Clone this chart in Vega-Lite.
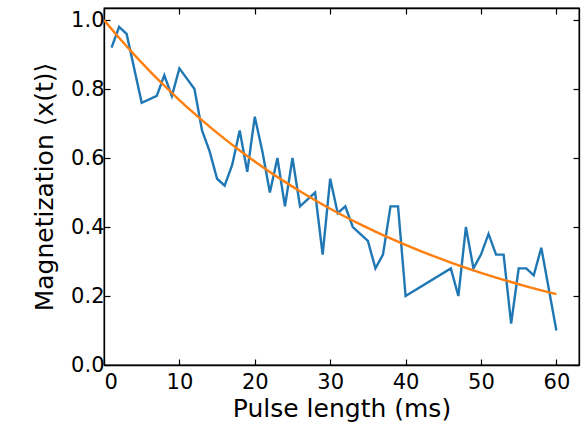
{
  "$schema": "https://vega.github.io/schema/vega-lite/v6.json",
  "autosize": {"type": "none"},
  "padding": {"left": 104, "top": 8, "right": 9, "bottom": 64},
  "width": 475,
  "height": 357,
  "background": "white",
  "config": {
    "font": "DejaVu Sans",
    "view": {"stroke": "black", "strokeWidth": 1.3},
    "axis": {
      "grid": false,
      "domainColor": "black",
      "domainWidth": 1.3,
      "tickColor": "black",
      "tickWidth": 1.2,
      "tickSize": -6,
      "labelColor": "black",
      "labelFont": "DejaVu Sans",
      "labelFontSize": 21,
      "titleFont": "DejaVu Sans",
      "titleFontSize": 25,
      "titleFontWeight": "normal",
      "titleColor": "black"
    }
  },
  "datasets": {
    "measured": [
      {"t": 1, "m": 0.92}, {"t": 2, "m": 0.98}, {"t": 3, "m": 0.96}, {"t": 5, "m": 0.76},
      {"t": 7, "m": 0.78}, {"t": 8, "m": 0.84}, {"t": 9, "m": 0.78}, {"t": 10, "m": 0.86},
      {"t": 12, "m": 0.80}, {"t": 13, "m": 0.68}, {"t": 14, "m": 0.62}, {"t": 15, "m": 0.54},
      {"t": 16, "m": 0.52}, {"t": 17, "m": 0.58}, {"t": 18, "m": 0.68}, {"t": 19, "m": 0.56},
      {"t": 20, "m": 0.72}, {"t": 21, "m": 0.62}, {"t": 22, "m": 0.50}, {"t": 23, "m": 0.60},
      {"t": 24, "m": 0.46}, {"t": 25, "m": 0.60}, {"t": 26, "m": 0.46}, {"t": 27, "m": 0.48},
      {"t": 28, "m": 0.50}, {"t": 29, "m": 0.32}, {"t": 30, "m": 0.54}, {"t": 31, "m": 0.44},
      {"t": 32, "m": 0.46}, {"t": 33, "m": 0.40}, {"t": 35, "m": 0.36}, {"t": 36, "m": 0.28},
      {"t": 37, "m": 0.32}, {"t": 38, "m": 0.46}, {"t": 39, "m": 0.46}, {"t": 40, "m": 0.20},
      {"t": 46, "m": 0.28}, {"t": 47, "m": 0.20}, {"t": 48, "m": 0.40}, {"t": 49, "m": 0.28},
      {"t": 50, "m": 0.32}, {"t": 51, "m": 0.38}, {"t": 52, "m": 0.32}, {"t": 53, "m": 0.32},
      {"t": 54, "m": 0.12}, {"t": 55, "m": 0.28}, {"t": 56, "m": 0.28}, {"t": 57, "m": 0.26},
      {"t": 58, "m": 0.34}, {"t": 60, "m": 0.10}
    ],
    "fit": [
      {"t": 0, "m": 1.0}, {"t": 2, "m": 0.9486}, {"t": 4, "m": 0.8998}, {"t": 6, "m": 0.8536},
      {"t": 8, "m": 0.8097}, {"t": 10, "m": 0.7681}, {"t": 12, "m": 0.7286}, {"t": 14, "m": 0.6911},
      {"t": 16, "m": 0.6556}, {"t": 18, "m": 0.6219}, {"t": 20, "m": 0.59}, {"t": 22, "m": 0.5596},
      {"t": 24, "m": 0.5309}, {"t": 26, "m": 0.5036}, {"t": 28, "m": 0.4777}, {"t": 30, "m": 0.4531},
      {"t": 32, "m": 0.4298}, {"t": 34, "m": 0.4077}, {"t": 36, "m": 0.3868}, {"t": 38, "m": 0.3669},
      {"t": 40, "m": 0.348}, {"t": 42, "m": 0.3301}, {"t": 44, "m": 0.3132}, {"t": 46, "m": 0.2971},
      {"t": 48, "m": 0.2818}, {"t": 50, "m": 0.2673}, {"t": 52, "m": 0.2536}, {"t": 54, "m": 0.2406},
      {"t": 56, "m": 0.2282}, {"t": 58, "m": 0.2165}, {"t": 60, "m": 0.2054}
    ]
  },
  "layer": [
    {
      "data": {"name": "measured"},
      "mark": {"type": "line", "color": "#1f77b4", "strokeWidth": 2.4, "clip": true},
      "encoding": {
        "x": {
          "field": "t", "type": "quantitative",
          "scale": {"domain": [0, 63], "nice": false, "zero": false},
          "axis": {"values": [0, 10, 20, 30, 40, 50, 60], "title": "Pulse length (ms)", "labelPadding": 12, "titlePadding": 4, "orient": "bottom"}
        },
        "y": {
          "field": "m", "type": "quantitative",
          "scale": {"domain": [0, 1.035], "nice": false},
          "axis": {"values": [0, 0.2, 0.4, 0.6, 0.8, 1.0], "format": ".1f", "title": "Magnetization ⟨x(t)⟩", "labelPadding": 6, "titlePadding": 13, "orient": "left"}
        }
      }
    },
    {
      "data": {"name": "fit"},
      "mark": {"type": "line", "color": "#ff7f0e", "strokeWidth": 2.4, "interpolate": "monotone", "clip": true},
      "encoding": {
        "x": {
          "field": "t", "type": "quantitative",
          "axis": {"orient": "top", "values": [0, 10, 20, 30, 40, 50, 60], "labels": false, "title": null}
        },
        "y": {
          "field": "m", "type": "quantitative",
          "axis": {"orient": "right", "values": [0, 0.2, 0.4, 0.6, 0.8, 1.0], "labels": false, "title": null}
        }
      }
    }
  ],
  "resolve": {"axis": {"x": "independent", "y": "independent"}}
}
